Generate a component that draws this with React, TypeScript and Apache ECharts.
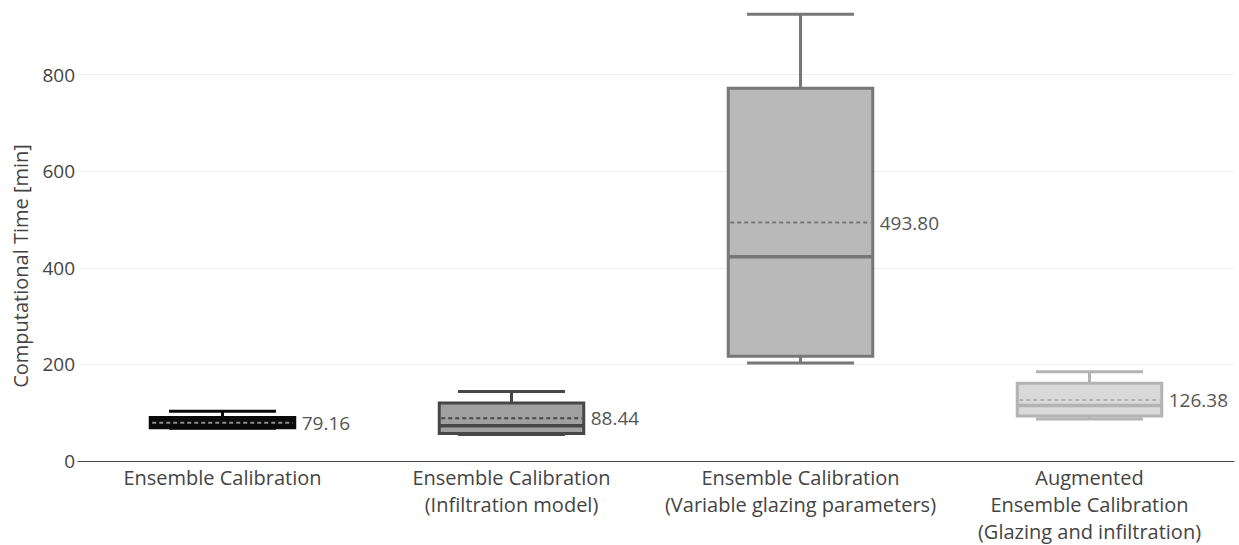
import React, { useEffect, useRef } from "react";
import * as echarts from "echarts";

const categories = [
  "Ensemble Calibration",
  "Ensemble Calibration\n(Infiltration model)",
  "Ensemble Calibration\n(Variable glazing parameters)",
  "Augmented\nEnsemble Calibration\n(Glazing and infiltration)",
];
const minValues = [68, 55, 203, 87];
const q1Values = [69, 57, 217, 93];
const medianValues = [78, 73, 423, 115];
const q3Values = [90, 120, 772, 161];
const maxValues = [103, 144, 925, 185];
const meanValues = [79.16, 88.44, 493.8, 126.38];
const meanLabels = ["79.16", "88.44", "493.80", "126.38"];
const yTicks = [0, 200, 400, 600, 800];
const yTitle = "Computational Time [min]";

const strokeColors = ["#0a0a0a", "#474747", "#777777", "#b3b3b3"];
const fillColors = ["#0a0a0a", "#a0a0a0", "#b9b9b9", "#d9d9d9"];
const meanColors = ["#8a8a8a", "#474747", "#777777", "#b3b3b3"];

const FONT = "'Open Sans', 'Noto Sans', sans-serif";

export default function App() {
  const ref = useRef<HTMLDivElement>(null);
  useEffect(() => {
    if (!ref.current) return;
    const chart = echarts.init(ref.current, undefined, { renderer: "svg" });
    const data = categories.map((_, i) => [
      i,
      minValues[i],
      q1Values[i],
      medianValues[i],
      q3Values[i],
      maxValues[i],
      meanValues[i],
    ]);
    chart.setOption({
      animation: false,
      backgroundColor: "#ffffff",
      grid: { left: 78, right: 5, top: 10, bottom: 76 },
      graphic: [
        {
          type: "text",
          x: 20,
          y: 266,
          rotation: Math.PI / 2,
          style: {
            text: yTitle,
            align: "center",
            verticalAlign: "middle",
            fill: "#444444",
            font: `20px ${FONT}`,
          },
        },
      ],
      xAxis: {
        type: "category",
        data: categories,
        axisTick: { show: false },
        axisLine: { lineStyle: { color: "#444444", width: 1 } },
        axisLabel: {
          interval: 0,
          color: "#444444",
          fontFamily: FONT,
          fontSize: 20,
          lineHeight: 27,
          margin: 3,
        },
        splitLine: { show: false },
      },
      yAxis: {
        type: "value",
        min: yTicks[0],
        max: 934,
        interval: 200,
        axisLine: { show: false },
        axisTick: { show: false },
        axisLabel: {
          color: "#444444",
          fontFamily: FONT,
          fontSize: 19,
          margin: 3,
          showMaxLabel: false,
          formatter: (v: number) => (yTicks.includes(v) ? String(v) : ""),
        },
        splitLine: {
          lineStyle: { color: "#eeeeee", width: 1 },
          showMinLine: false,
          showMaxLine: false,
        },
      },
      series: [
        {
          type: "custom",
          data,
          encode: { x: 0, y: [1, 2, 3, 4, 5, 6] },
          renderItem: (params: any, api: any) => {
            const idx = api.value(0);
            const band = api.size([1, 0])[0];
            const boxW = band * 0.5;
            const capW = band * 0.37;
            const pMin = api.coord([idx, api.value(1)]);
            const pQ1 = api.coord([idx, api.value(2)]);
            const pMed = api.coord([idx, api.value(3)]);
            const pQ3 = api.coord([idx, api.value(4)]);
            const pMax = api.coord([idx, api.value(5)]);
            const pMean = api.coord([idx, api.value(6)]);
            const cx = pMed[0];
            const stroke = strokeColors[idx];
            const fill = fillColors[idx];
            const lw = 3;
            const ls = { stroke, lineWidth: lw };
            return {
              type: "group",
              children: [
                { type: "line", shape: { x1: cx, y1: pQ3[1], x2: cx, y2: pMax[1] }, style: ls },
                { type: "line", shape: { x1: cx, y1: pQ1[1], x2: cx, y2: pMin[1] }, style: ls },
                { type: "line", shape: { x1: cx - capW / 2, y1: pMax[1], x2: cx + capW / 2, y2: pMax[1] }, style: ls },
                { type: "line", shape: { x1: cx - capW / 2, y1: pMin[1], x2: cx + capW / 2, y2: pMin[1] }, style: ls },
                {
                  type: "rect",
                  shape: { x: cx - boxW / 2, y: pQ3[1], width: boxW, height: pQ1[1] - pQ3[1] },
                  style: { fill, stroke, lineWidth: lw },
                },
                { type: "line", shape: { x1: cx - boxW / 2, y1: pMed[1], x2: cx + boxW / 2, y2: pMed[1] }, style: { stroke, lineWidth: 3.5 } },
                {
                  type: "line",
                  shape: { x1: cx - boxW / 2 + 2, y1: pMean[1], x2: cx + boxW / 2 - 2, y2: pMean[1] },
                  style: { stroke: meanColors[idx], lineWidth: 2, lineDash: [4, 3] },
                },
                {
                  type: "text",
                  style: {
                    text: meanLabels[idx],
                    x: cx + boxW / 2 + 7,
                    y: pMean[1],
                    verticalAlign: "middle",
                    align: "left",
                    fill: "#555555",
                    font: `19px ${FONT}`,
                  },
                },
              ],
            };
          },
        },
      ],
    });
    return () => chart.dispose();
  }, []);
  return (
    <div
      ref={ref}
      style={{ position: "absolute", left: 0, top: 0, width: 1239, height: 545 }}
    />
  );
}
